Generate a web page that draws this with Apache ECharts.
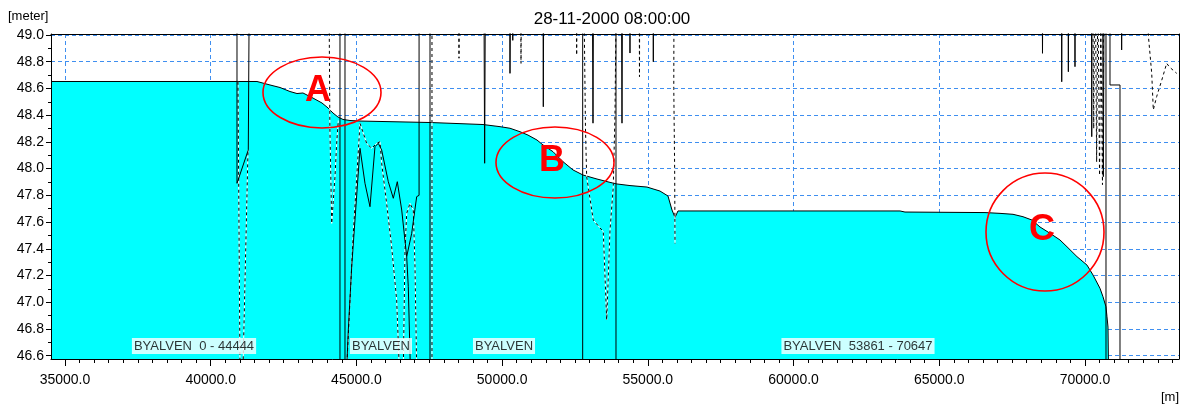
<!DOCTYPE html>
<html>
<head>
<meta charset="utf-8">
<script src="https://cdn.jsdelivr.net/npm/echarts@6/dist/echarts.min.js"></script>
<style>
  html, body { margin: 0; padding: 0; background: #fff; }
  #chart { width: 1183px; height: 405px; }
</style>
</head>
<body>
<div id="chart"></div>
<script>
// ---- axis ranges and ticks ----
const X_MIN = 34520, X_MAX = 73226;
const Y_MIN = 46.575, Y_MAX = 49.0075;
const xMajorTicks = [35000, 40000, 45000, 50000, 55000, 60000, 65000, 70000];
const yMajorTicks = [46.6, 46.8, 47.0, 47.2, 47.4, 47.6, 47.8, 48.0, 48.2, 48.4, 48.6, 48.8, 49.0];
const xMinorTicks = [];
for (let v = 35000; v <= 73000; v += 500) xMinorTicks.push(v);
const yMinorTicks = [];
for (let i = 466; i <= 490; i++) yMinorTicks.push(i / 10);

const chartTitle = '28-11-2000 08:00:00';
const yUnit = '[meter]';
const xUnit = '[m]';

// ---- water level along the chainage (filled profile) ----
const waterLevel = [
  [34520, 48.652], [41588, 48.652], [42034, 48.626], [42378, 48.607], [42721, 48.577],
  [42961, 48.562], [43167, 48.566], [43510, 48.528], [43819, 48.491], [44025, 48.454],
  [44196, 48.416], [44368, 48.386], [44539, 48.368], [44779, 48.360], [45123, 48.356],
  [47525, 48.345], [49343, 48.330], [49927, 48.314], [50270, 48.302], [50613, 48.276],
  [50887, 48.251], [51196, 48.214], [51402, 48.177], [51745, 48.127], [52088, 48.052],
  [52432, 47.990], [52775, 47.952], [53255, 47.922], [53701, 47.897], [53941, 47.885],
  [54387, 47.873], [54971, 47.862], [55417, 47.832], [55691, 47.795], [55829, 47.690],
  [55932, 47.634], [56034, 47.683], [63652, 47.683], [63824, 47.675], [66569, 47.671],
  [67084, 47.665], [67530, 47.658], [67873, 47.640], [68182, 47.615], [68456, 47.563],
  [68799, 47.516], [69142, 47.466], [69383, 47.415], [69726, 47.341], [70069, 47.278],
  [70275, 47.204], [70515, 47.104], [70618, 47.041], [70721, 46.966], [70755, 46.891],
  [70790, 46.814], [70807, 46.50]
];

// ---- solid traces ----
const solidTraces = [
  [[40902, 49.6], [40902, 47.89], [41290, 48.14], [41330, 49.6]],
  [[44436, 46.5], [44436, 49.6]],
  [[44608, 46.5], [44608, 49.6]],
  [[44666, 46.5], [44722, 46.792], [44838, 47.266], [45123, 48.152], [45294, 47.890],
   [45466, 47.715], [45637, 48.164], [45751, 48.189], [45866, 48.139], [46094, 47.902],
   [46266, 47.778], [46403, 47.902], [46554, 47.690], [46725, 47.341], [46897, 47.516],
   [47068, 47.790], [47150, 47.80], [47150, 49.6]],
  [[46725, 47.341], [46780, 47.116], [46838, 46.62], [46850, 46.5]],
  [[47525, 46.5], [47525, 49.6]],
  [[49370, 49.6], [49400, 48.04], [49430, 49.6]],
  [[50250, 49.6], [50270, 48.713], [50300, 49.6]],
  [[50350, 49.6], [50365, 48.96], [50380, 49.6]],
  [[51400, 49.6], [51413, 48.463], [51430, 49.6]],
  [[52764, 46.5], [52764, 49.6]],
  [[53090, 49.6], [53118, 48.34], [53140, 49.6]],
  [[53907, 46.5], [53907, 49.6]],
  [[54090, 49.6], [54113, 48.34], [54135, 49.6]],
  [[54375, 49.6], [54387, 48.865], [54400, 49.6]],
  [[55175, 49.6], [55188, 48.80], [55200, 49.6]],
  [[68530, 49.6], [68542, 48.863], [68560, 49.6]],
  [[69190, 49.6], [69202, 48.65], [69215, 49.6]],
  [[69420, 49.6], [69429, 48.725], [69440, 49.6]],
  [[69650, 49.6], [69657, 48.763], [69665, 49.6]],
  [[70220, 49.6], [70232, 48.239], [70245, 49.6]],
  [[70600, 49.6], [70630, 47.94], [70660, 49.6]],
  [[70721, 46.5], [70721, 49.6]],
  [[70858, 49.6], [70858, 48.626], [71201, 48.626], [71201, 46.5]],
  [[71250, 49.6], [71258, 48.888], [71270, 49.6]]
];

// ---- dashed traces ----
const dashedTraces = [
  [[40936, 48.65], [41005, 46.5], [41108, 46.5], [41280, 48.139]],
  [[44050, 49.6], [44090, 48.3], [44152, 47.59], [44265, 47.94], [44322, 48.19], [44379, 48.36]],
  [[44666, 46.5], [44780, 47.016], [44893, 47.516], [45123, 48.339], [45352, 48.189],
   [45523, 48.152], [45695, 48.189], [45809, 48.201], [45866, 48.040], [46037, 47.740],
   [46209, 47.415], [46381, 47.016], [46472, 46.5]],
  [[46609, 46.5], [46667, 47.391], [46725, 47.665], [46838, 47.740], [46952, 47.690],
   [47010, 47.266], [47068, 46.5]],
  [[47593, 46.5], [47593, 49.6]],
  [[48500, 49.6], [48520, 48.826], [48540, 49.6]],
  [[50630, 49.6], [50648, 48.788], [50665, 49.6]],
  [[52540, 49.6], [52558, 48.85], [52575, 49.6]],
  [[52790, 49.6], [52860, 48.3], [52901, 47.939], [53128, 47.615], [53471, 47.528],
   [53588, 46.867], [53702, 47.540], [53814, 47.865], [53873, 48.414], [53930, 49.6]],
  [[54700, 49.6], [54713, 48.688], [54725, 49.6]],
  [[55900, 49.6], [55890, 48.6], [55920, 48.0], [55932, 47.44]],
  [[70260, 49.6], [70300, 48.30], [70340, 49.6]],
  [[70350, 49.6], [70400, 48.05], [70450, 49.6]],
  [[70430, 49.6], [70500, 47.95], [70560, 49.6]],
  [[70520, 49.6], [70600, 47.88], [70650, 49.6]],
  [[72160, 49.6], [72173, 49.0], [72290, 48.713], [72344, 48.44], [72461, 48.54],
   [72632, 48.66], [72804, 48.788], [72900, 48.76], [73147, 48.713]]
];

// ---- branch names along the bottom ----
const branchLabels = ['BYALVEN  0 - 44444', 'BYALVEN', 'BYALVEN', 'BYALVEN  53861 - 70647'];
const branchLabelX = [39427, 45843, 50064, 62211];
const branchLabelY = 46.672;

// ---- highlighted zones ----
const zoneNames = ['A', 'B', 'C'];
const zoneCenters = [[43819, 48.570], [51814, 48.046], [68628, 47.525]];
const zoneLetterPos = [[43682, 48.581], [51711, 48.057], [68525, 47.540]];
const zoneRadii = [[59, 35.5], [59, 35.5], [59, 59]];

const FONT = '"Liberation Sans", Arial, sans-serif';
const GRID_BLUE = '#3f8ff0';

function baseX(extra) {
  return Object.assign({
    type: 'value', min: X_MIN, max: X_MAX, gridIndex: 0,
    axisLine: { show: false }, axisTick: { show: false },
    axisLabel: { show: false }, splitLine: { show: false }
  }, extra);
}
function baseY(extra) {
  return Object.assign({
    type: 'value', min: Y_MIN, max: Y_MAX, gridIndex: 0,
    axisLine: { show: false }, axisTick: { show: false },
    axisLabel: { show: false }, splitLine: { show: false }
  }, extra);
}

const series = [];
series.push({
  type: 'line', name: 'level', data: waterLevel, symbol: 'none', z: 2,
  lineStyle: { color: '#000', width: 1 },
  areaStyle: { color: '#00ffff', opacity: 1, origin: 'start' },
  animation: false
});
dashedTraces.forEach(function (tr) {
  series.push({ type: 'line', data: tr, symbol: 'none', z: 3, animation: false,
    lineStyle: { color: '#fff', width: 1 } });
  series.push({ type: 'line', data: tr, symbol: 'none', z: 4, animation: false,
    lineStyle: { color: '#000', width: 1, type: [3, 3] } });
});
solidTraces.forEach(function (tr) {
  series.push({ type: 'line', data: tr, symbol: 'none', z: 5, animation: false,
    lineStyle: { color: '#000', width: 1 } });
});
series.push({
  type: 'scatter', symbolSize: 0, z: 6, animation: false,
  data: branchLabelX.map(function (x, i) {
    return { value: [x, branchLabelY], label: { formatter: branchLabels[i] } };
  }),
  label: { show: true, position: 'inside', color: '#000', backgroundColor: '#fff',
    padding: [2, 2, 1, 2], fontSize: 13, fontFamily: FONT }
});

const chart = echarts.init(document.getElementById('chart'), null, { renderer: 'canvas' });
chart.setOption({
  animation: false,
  backgroundColor: '#fff',
  grid: { left: 51, right: 4, top: 34, bottom: 46, containLabel: false },
  xAxis: [
    baseX({ position: 'bottom', z: 10,
      axisLine: { show: true, onZero: false, lineStyle: { color: '#000', width: 1 } },
      axisTick: { show: true, length: 7, customValues: xMajorTicks, lineStyle: { color: '#000' } },
      axisLabel: { show: true, customValues: xMajorTicks, margin: 14, color: '#000',
        fontSize: 14, fontFamily: FONT, formatter: function (v) { return v.toFixed(1); } } }),
    baseX({ position: 'bottom', z: 10,
      axisTick: { show: true, length: 4, customValues: xMinorTicks, lineStyle: { color: '#000' } } }),
    baseX({ position: 'top', z: 10,
      axisLine: { show: true, onZero: false, lineStyle: { color: '#000', width: 1 } } }),
    baseX({ position: 'bottom', z: 0,
      axisTick: { show: false, customValues: xMajorTicks },
      splitLine: { show: true, lineStyle: { color: GRID_BLUE, width: 1, type: [4, 3] } } })
  ],
  yAxis: [
    baseY({ position: 'left', z: 10,
      axisLine: { show: true, onZero: false, lineStyle: { color: '#000', width: 1 } },
      axisTick: { show: true, length: 5, customValues: yMajorTicks, lineStyle: { color: '#000' } },
      axisLabel: { show: true, customValues: yMajorTicks, margin: 7, color: '#000',
        fontSize: 14, fontFamily: FONT, formatter: function (v) { return v.toFixed(1); } } }),
    baseY({ position: 'left', z: 10,
      axisTick: { show: true, length: 3, customValues: yMinorTicks, lineStyle: { color: '#000' } } }),
    baseY({ position: 'right', z: 10,
      axisLine: { show: true, onZero: false, lineStyle: { color: '#000', width: 1 } } }),
    baseY({ position: 'left', z: 0,
      axisTick: { show: false, customValues: yMajorTicks },
      splitLine: { show: true, lineStyle: { color: GRID_BLUE, width: 1, type: [4, 3] } } })
  ],
  series: series
});

// Title, units and the highlighted zones drawn on top of the plot
const graphics = [
  { type: 'text', silent: true, x: 612, y: 11,
    style: { text: chartTitle, fill: '#000', font: '17px ' + FONT, textAlign: 'center' } },
  { type: 'text', silent: true, x: 8, y: 10,
    style: { text: yUnit, fill: '#000', font: '13px ' + FONT } },
  { type: 'text', silent: true, x: 1161, y: 391,
    style: { text: xUnit, fill: '#000', font: '13px ' + FONT } }
];
zoneNames.forEach(function (name, i) {
  const c = chart.convertToPixel({ xAxisIndex: 0, yAxisIndex: 0 }, zoneCenters[i]);
  const t = chart.convertToPixel({ xAxisIndex: 0, yAxisIndex: 0 }, zoneLetterPos[i]);
  graphics.push({ type: 'ellipse', silent: true, z: 100,
    shape: { cx: c[0], cy: c[1], rx: zoneRadii[i][0], ry: zoneRadii[i][1] },
    style: { fill: 'none', stroke: '#ff0000', lineWidth: 1.6 } });
  graphics.push({ type: 'text', silent: true, z: 101, x: t[0], y: t[1],
    style: { text: name, fill: '#ff0000', font: 'bold 36px ' + FONT,
      textAlign: 'center', textVerticalAlign: 'middle' } });
});
chart.setOption({ graphic: graphics });
</script>
</body>
</html>
